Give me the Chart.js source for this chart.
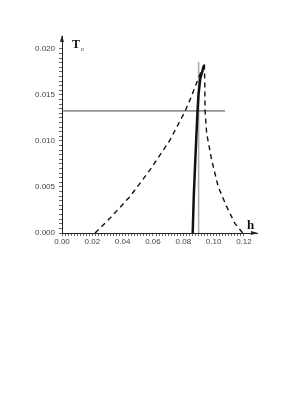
<!DOCTYPE html>
<html>
<head>
<meta charset="utf-8">
<script src="https://cdn.jsdelivr.net/npm/chart.js@4.4.0/dist/chart.umd.min.js"></script>
<style>
  html, body { margin: 0; padding: 0; background: #fff; }
  #wrap { width: 305px; height: 395px; position: relative; }
</style>
</head>
<body>
<div id="wrap"><canvas id="myChart"></canvas></div>
<script>
  // tick labels
  const xMajor = [0, 0.02, 0.04, 0.06, 0.08, 0.10, 0.12];
  const yMajor = [0, 0.005, 0.010, 0.015, 0.020];

  // dashed curve, left branch
  const dashLeftH = [0.0218, 0.0316, 0.0448, 0.0580, 0.0712, 0.0811, 0.0844, 0.0921, 0.0939];
  const dashLeftT = [0, 0.0016, 0.00395, 0.00685, 0.0101, 0.0132, 0.01446, 0.0177, 0.0183];
  // dashed curve, right branch
  const dashRightH = [0.0939, 0.0942, 0.0943, 0.0954, 0.0987, 0.1030, 0.1086, 0.1140, 0.1185, 0.1192];
  const dashRightT = [0.0183, 0.0160, 0.01337, 0.01084, 0.00793, 0.00503, 0.00286, 0.00105, 0.00014, 0];
  // thick solid curve
  const solidH = [0.0862, 0.0869, 0.0878, 0.0886, 0.0893, 0.0900, 0.0912, 0.0937];
  const solidT = [0, 0.0040, 0.0075, 0.0105, 0.0130, 0.0150, 0.0168, 0.0182];
  // grey vertical marker
  const grayH = [0.0901, 0.0901];
  const grayT = [0, 0.0186];
  // horizontal level
  const levelH = [0, 0.1075];
  const levelT = [0.01326, 0.01326];

  const pts = (xs, ys) => xs.map((x, i) => ({ x: x, y: ys[i] }));

  const isMajor = (v, list) => list.some(m => Math.abs(m - v) < 1e-9);

  const data = {
    datasets: [
      {
        label: 'solid',
        data: pts(solidH, solidT),
        borderColor: '#111',
        borderWidth: 2.5,
        order: 0
      },
      {
        label: 'dash left',
        data: pts(dashLeftH, dashLeftT),
        borderColor: '#111',
        borderWidth: 1.4,
        borderDash: [5, 4],
        order: 1
      },
      {
        label: 'dash right',
        data: pts(dashRightH, dashRightT),
        borderColor: '#111',
        borderWidth: 1.4,
        borderDash: [5, 4],
        order: 1
      },
      {
        label: 'gray',
        data: pts(grayH, grayT),
        borderColor: '#aaa',
        borderWidth: 1.5,
        order: 3
      },
      {
        label: 'level',
        data: pts(levelH, levelT),
        borderColor: '#444',
        borderWidth: 1,
        order: 2
      }
    ]
  };

  const decorations = {
    id: 'decorations',
    afterDraw(chart) {
      const { ctx, chartArea: { left, right, top, bottom } } = chart;
      ctx.save();
      ctx.fillStyle = '#222';
      // y arrow
      ctx.beginPath();
      ctx.moveTo(left, top - 1);
      ctx.lineTo(left - 2, top + 6);
      ctx.lineTo(left + 2, top + 6);
      ctx.closePath();
      ctx.fill();
      // x arrow
      ctx.beginPath();
      ctx.moveTo(right + 1, bottom);
      ctx.lineTo(right - 6, bottom - 2);
      ctx.lineTo(right - 6, bottom + 2);
      ctx.closePath();
      ctx.fill();
      // axis titles
      ctx.fillStyle = '#111';
      ctx.textBaseline = 'alphabetic';
      ctx.font = 'bold 12px "Liberation Serif"';
      ctx.fillText('T', 72, 48);
      ctx.font = '7px "Liberation Serif"';
      ctx.fillText('c', 81, 51);
      ctx.font = 'bold 13px "Liberation Serif"';
      ctx.fillText('h', 247, 229);
      ctx.restore();
    }
  };

  const config = {
    type: 'scatter',
    data: data,
    options: {
      responsive: true,
      maintainAspectRatio: false,
      animation: false,
      showLine: true,
      elements: { point: { radius: 0 }, line: { tension: 0 } },
      layout: { padding: { left: 0, right: 48, top: 36, bottom: 0 } },
      plugins: { legend: { display: false }, tooltip: { enabled: false } },
      scales: {
        x: {
          type: 'linear',
          min: 0,
          max: 0.1286,
          afterBuildTicks(scale) {
            const t = [];
            for (let i = 0; i <= 60; i++) t.push({ value: +(i * 0.002).toFixed(4) });
            scale.ticks = t;
          },
          afterFit(scale) { scale.height = 162; },
          ticks: {
            autoSkip: false,
            maxRotation: 0,
            padding: 1,
            color: '#444',
            font: { family: '"Liberation Sans"', size: 8 },
            callback: (v) => isMajor(v, xMajor) ? v.toFixed(2) : ''
          },
          grid: { drawOnChartArea: false, tickLength: 3, color: '#666' },
          border: { color: '#222', width: 1 }
        },
        y: {
          type: 'linear',
          min: 0,
          max: 0.0214,
          afterBuildTicks(scale) {
            const t = [];
            for (let i = 0; i <= 40; i++) t.push({ value: +(i * 0.0005).toFixed(5) });
            scale.ticks = t;
          },
          afterFit(scale) { scale.width = 62; },
          ticks: {
            autoSkip: false,
            padding: 4,
            color: '#444',
            font: { family: '"Liberation Sans"', size: 8 },
            callback: (v) => isMajor(v, yMajor) ? v.toFixed(3) : ''
          },
          grid: { drawOnChartArea: false, tickLength: 3, color: '#666' },
          border: { color: '#222', width: 1 }
        }
      }
    },
    plugins: [decorations]
  };

  const myChart = new Chart(document.getElementById('myChart'), config);
</script>
</body>
</html>
